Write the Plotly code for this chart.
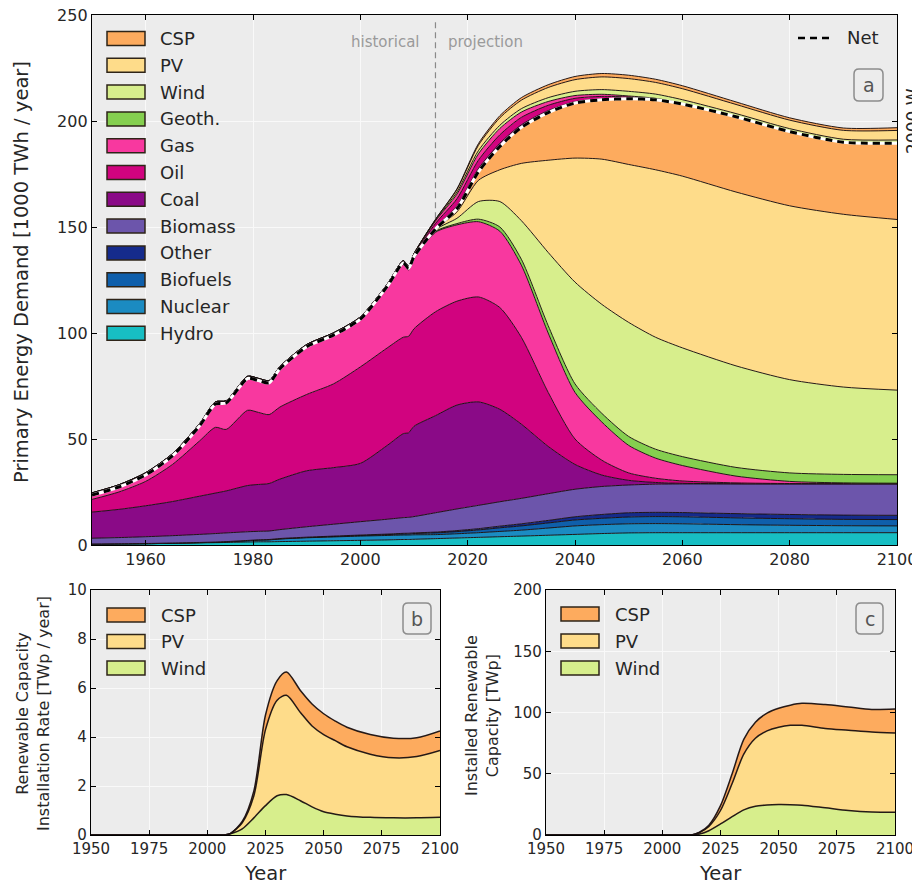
import plotly.graph_objects as go

# ---------------- Panel a data (1000 TWh / year) ----------------
YEARS = [1950, 1955, 1960, 1965, 1970, 1973, 1975, 1979, 1981, 1983, 1985, 1990, 1995, 2000,
         2005, 2008, 2009, 2010, 2014, 2018, 2022, 2026, 2030, 2035, 2040, 2045, 2050, 2055,
         2060, 2070, 2080, 2090, 2100]
HYDRO = [0.4, 0.5, 0.6, 0.8, 1.0, 1.1, 1.2, 1.4, 1.5, 1.5, 1.6, 1.8, 2.0, 2.2, 2.4, 2.6, 2.6, 2.7,
         3.0, 3.3, 3.6, 3.9, 4.2, 4.6, 5.0, 5.4, 5.7, 5.8, 5.8, 5.8, 5.8, 5.8, 5.8]
NUCLEAR = [0, 0, 0, 0.05, 0.1, 0.2, 0.3, 0.6, 0.8, 0.9, 1.2, 1.6, 1.8, 2.0, 2.1, 2.1, 2.1, 2.1,
           1.9, 2.0, 2.2, 2.5, 2.8, 3.4, 4.0, 4.2, 4.3, 4.3, 4.2, 3.8, 3.5, 3.3, 3.2]
BIOFUELS = [0, 0, 0, 0, 0, 0, 0, 0.05, 0.05, 0.1, 0.1, 0.15, 0.2, 0.3, 0.4, 0.5, 0.55, 0.6,
            0.8, 1.0, 1.3, 1.7, 2.0, 2.4, 2.8, 3.0, 3.2, 3.3, 3.3, 3.2, 3.1, 3.0, 3.0]
OTHER = [0.1, 0.1, 0.1, 0.1, 0.1, 0.1, 0.1, 0.1, 0.1, 0.1, 0.15, 0.15, 0.2, 0.2, 0.25, 0.3, 0.3, 0.3,
         0.4, 0.5, 0.6, 0.8, 1.0, 1.2, 1.5, 1.8, 2.0, 2.0, 2.0, 2.0, 2.0, 2.0, 2.0]
BIOMASS = [2.7, 2.9, 3.2, 3.45, 3.8, 4.0, 4.1, 4.1, 4.0, 4.0, 4.2, 4.9, 5.6, 6.3, 7.0, 7.4, 7.5, 7.7,
           9.1, 10.2, 11.0, 11.5, 12.0, 12.6, 13.0, 13.2, 13.1, 13.3, 13.5, 14.0, 14.4, 14.7, 14.8]
COAL = [12.3, 13.3, 14.6, 16.1, 18.0, 19.1, 19.8, 21.8, 22.1, 22.4, 23.8, 26.4, 26.7, 27.5, 34.8, 39.6,
        39.9, 42.6, 45.8, 49.0, 48.8, 43.6, 35.0, 22.3, 11.7, 5.4, 2.2, 0.8, 0.3, 0.1, 0.05, 0.05, 0.05]
OIL = [6.0, 8.2, 11.5, 17.5, 26.0, 31.0, 29.0, 35.5, 34.0, 32.5, 34.0, 36.0, 39.5, 45.5, 46.0, 45.5,
       45.5, 46.0, 49.0, 49.0, 49.5, 48.0, 41.0, 25.5, 12.0, 7.0, 3.5, 2.0, 1.1, 0.4, 0.15, 0.1, 0.1]
GAS = [2.0, 2.3, 3.0, 4.0, 7.0, 10.9, 12.4, 14.9, 14.9, 14.9, 17.9, 22.3, 22.8, 22.3, 28.6, 34.4,
       31.3, 33.2, 37.5, 36.0, 35.5, 36.0, 34.0, 28.0, 22.0, 18.0, 13.0, 9.5, 7.3, 3.2, 1.0, 0.35, 0.2]
GEOTH = [0.05, 0.05, 0.05, 0.05, 0.05, 0.1, 0.1, 0.1, 0.1, 0.1, 0.15, 0.2, 0.2, 0.2, 0.25, 0.3, 0.3,
         0.3, 0.4, 0.6, 1.2, 2.0, 2.8, 3.5, 4.0, 4.1, 4.2, 4.2, 4.2, 4.1, 4.0, 4.0, 4.0]
WIND = [0, 0, 0, 0, 0, 0, 0, 0, 0, 0, 0, 0, 0.02, 0.05, 0.15, 0.3, 0.4, 0.5, 0.8, 2.5, 8.3, 12.0,
        18.2, 34.5, 48.0, 51.4, 53.8, 52.8, 51.3, 47.9, 44.0, 41.2, 39.9]
PV = [0, 0, 0, 0, 0, 0, 0, 0, 0, 0, 0, 0, 0, 0, 0, 0.02, 0.03, 0.05, 0.3, 3.0, 10.0, 15.0, 27.0,
      43.5, 58.5, 68.5, 74.5, 79.0, 81.0, 82.0, 82.0, 81.5, 80.5]
CSP = [0, 0, 0, 0, 0, 0, 0, 0, 0, 0, 0, 0, 0, 0, 0, 0, 0, 0, 0.05, 1.5, 4.0, 11.0, 17.0, 22.5,
       26.0, 28.0, 31.0, 33.0, 34.0, 35.5, 35.0, 34.0, 36.0]
# energy invested (gross minus net), stacked above the net line
COAL_INV = [0.25, 0.25, 0.25, 0.25, 0.25, 0.25, 0.25, 0.25, 0.25, 0.25, 0.25, 0.25, 0.25, 0.25, 0.25,
            0.25, 0.25, 0.3, 0.6, 1.2, 1.5, 1.5, 1.2, 0.9, 0.6, 0.4, 0.2, 0.1, 0.05, 0, 0, 0, 0]
OIL_INV = [0.5, 0.5, 0.5, 0.5, 0.5, 0.5, 0.5, 0.5, 0.5, 0.5, 0.5, 0.5, 0.5, 0.5, 0.5, 0.5, 0.5, 0.6,
           2.0, 3.5, 4.0, 4.0, 3.5, 2.5, 1.6, 1.2, 0.6, 0.3, 0.1, 0, 0, 0, 0]
GAS_INV = [0.3, 0.3, 0.3, 0.3, 0.3, 0.3, 0.3, 0.3, 0.3, 0.3, 0.3, 0.3, 0.3, 0.3, 0.3, 0.3, 0.3, 0.4,
           1.2, 2.2, 3.0, 3.0, 2.5, 1.8, 1.3, 1.0, 0.5, 0.3, 0.1, 0, 0, 0, 0]
WIND_INV = [0, 0, 0, 0, 0, 0, 0, 0, 0, 0, 0, 0, 0, 0, 0, 0.05, 0.05, 0.1, 0.4, 1.0, 1.5, 1.5, 1.6,
            1.8, 2.0, 2.2, 2.2, 2.0, 1.8, 1.5, 1.4, 1.4, 1.5]
PV_INV = [0, 0, 0, 0, 0, 0, 0, 0, 0, 0, 0, 0, 0, 0, 0, 0, 0, 0.05, 0.3, 1.2, 2.5, 3.5, 4.0, 4.8, 5.5,
          6.0, 6.0, 5.5, 5.2, 4.3, 4.0, 4.2, 4.5]
CSP_INV = [0, 0, 0, 0, 0, 0, 0, 0, 0, 0, 0, 0, 0, 0, 0, 0, 0, 0, 0.05, 0.3, 0.8, 1.0, 1.2, 1.3, 1.5,
           1.6, 1.6, 1.5, 1.4, 1.2, 1.1, 1.1, 1.3]

# ---------------- Panel b data (TWp / year) ----------------
B_YEARS = [1950, 2000, 2005, 2008, 2010, 2015, 2020, 2025, 2030, 2034, 2040, 2045, 2050, 2055,
           2060, 2070, 2080, 2090, 2100]
B_WIND = [0, 0, 0, 0.01, 0.05, 0.25, 0.7, 1.2, 1.6, 1.65, 1.4, 1.15, 0.95, 0.85, 0.78, 0.72, 0.7, 0.7, 0.72]
B_PV = [0, 0, 0, 0, 0.02, 0.25, 0.9, 3.1, 3.9, 4.05, 3.6, 3.3, 3.15, 3.0, 2.82, 2.58, 2.45, 2.5, 2.73]
B_CSP = [0, 0, 0, 0, 0, 0.05, 0.2, 0.6, 0.8, 0.95, 0.9, 0.9, 0.85, 0.8, 0.8, 0.8, 0.8, 0.77, 0.8]

# ---------------- Panel c data (TWp) ----------------
C_YEARS = [1950, 2005, 2010, 2013, 2016, 2020, 2025, 2030, 2035, 2040, 2045, 2050, 2055, 2060,
           2070, 2080, 2090, 2100]
C_WIND = [0, 0, 0, 0.1, 0.8, 3.5, 9, 15, 20.5, 23.5, 24.5, 24.8, 24.7, 24.3, 22.2, 20, 18.8, 18.6]
C_PV = [0, 0, 0, 0.1, 1.2, 3.5, 11, 27, 45.5, 55.5, 60.5, 63.2, 64.8, 65.2, 64.8, 65.5, 65.2, 64.6]
C_CSP = [0, 0, 0, 0, 0.3, 1, 4, 8, 12, 13, 14.5, 15.5, 16.5, 18, 19.5, 19, 18.5, 19.6]

A_XTICKS = [1960, 1980, 2000, 2020, 2040, 2060, 2080, 2100]
A_YTICKS = [0, 50, 100, 150, 200, 250]
BC_XTICKS = [1950, 1975, 2000, 2025, 2050, 2075, 2100]
B_YTICKS = [0, 2, 4, 6, 8, 10]
C_YTICKS = [0, 50, 100, 150, 200]

COLORS = {
    "CSP": "#fdab5e", "PV": "#fedc8a", "Wind": "#d7ee8c", "Geoth.": "#85cf4f",
    "Gas": "#f8389f", "Oil": "#d1037f", "Coal": "#8a0a87", "Biomass": "#6c55ab",
    "Other": "#152b8c", "Biofuels": "#0f5fab", "Nuclear": "#1b8bc2", "Hydro": "#17bec3",
}
MAIN_SERIES = [("Hydro", HYDRO), ("Nuclear", NUCLEAR), ("Biofuels", BIOFUELS), ("Other", OTHER),
               ("Biomass", BIOMASS), ("Coal", COAL), ("Oil", OIL), ("Gas", GAS), ("Geoth.", GEOTH),
               ("Wind", WIND), ("PV", PV), ("CSP", CSP)]
INV_SERIES = [("Coal", COAL_INV), ("Oil", OIL_INV), ("Gas", GAS_INV), ("Wind", WIND_INV),
              ("PV", PV_INV), ("CSP", CSP_INV)]

# the page body has an 8px margin, so the figure is drawn 8px in from the window edge
OFF = 8
W, H = 920 - OFF, 885 - OFF
EDGE = "rgba(25,15,15,0.95)"
FONT = "DejaVu Sans"
TXT = "#262626"


def px(x):
    """window x pixel -> paper fraction"""
    return (x - OFF) / W


def py(y):
    """window y pixel -> paper fraction"""
    return 1 - (y - OFF) / H


fig = go.Figure()

# panel a stacked areas
for name, vals in MAIN_SERIES + INV_SERIES:
    fig.add_trace(go.Scatter(
        x=YEARS, y=vals, name=name, stackgroup="a", mode="lines",
        line=dict(color=EDGE, width=1, shape="spline", smoothing=0.7),
        fillcolor=COLORS[name], hoverinfo="skip", xaxis="x", yaxis="y"))

NET = [sum(s[1][i] for s in MAIN_SERIES) for i in range(len(YEARS))]
fig.add_trace(go.Scatter(x=YEARS, y=NET, mode="lines", hoverinfo="skip",
                         line=dict(color="white", width=3, shape="spline", smoothing=0.7),
                         xaxis="x", yaxis="y"))
fig.add_trace(go.Scatter(x=YEARS, y=NET, mode="lines", name="Net", hoverinfo="skip",
                         line=dict(color="black", width=3, dash="7px,5px", shape="spline", smoothing=0.7),
                         xaxis="x", yaxis="y"))

# panels b and c
for (yrs, series, xa, ya, grp) in [
        (B_YEARS, [("Wind", B_WIND), ("PV", B_PV), ("CSP", B_CSP)], "x2", "y2", "b"),
        (C_YEARS, [("Wind", C_WIND), ("PV", C_PV), ("CSP", C_CSP)], "x3", "y3", "c")]:
    for name, vals in series:
        fig.add_trace(go.Scatter(
            x=yrs, y=vals, name=name, stackgroup=grp, mode="lines",
            line=dict(color=EDGE, width=1.5, shape="spline", smoothing=0.8),
            fillcolor=COLORS[name], hoverinfo="skip", xaxis=xa, yaxis=ya))

axis_common = dict(showline=True, linecolor="black", linewidth=1.3, mirror="ticks",
                   ticks="inside", ticklen=5, tickcolor="black", showgrid=True,
                   gridcolor="#f9f9f9", gridwidth=1, zeroline=False, automargin=False,
                   ticklabeloverflow="allow",
                   tickfont=dict(family=FONT, size=16, color=TXT))
small_tick = dict(family=FONT, size=15, color=TXT)

fig.update_layout(
    width=W, height=H, margin=dict(l=0, r=0, t=0, b=0, pad=0, autoexpand=False),
    paper_bgcolor="white", plot_bgcolor="#ececec", showlegend=False,
    font=dict(family=FONT, color=TXT),
    xaxis=dict(axis_common, domain=[px(92), px(897)], range=[1950, 2100], tickvals=A_XTICKS,
               anchor="y"),
    yaxis=dict(axis_common, domain=[py(545), py(15)], range=[0, 250], tickvals=A_YTICKS,
               anchor="x"),
    xaxis2=dict(axis_common, domain=[px(91), px(440)], range=[1950, 2100], tickvals=BC_XTICKS,
                anchor="y2", tickfont=small_tick),
    yaxis2=dict(axis_common, domain=[py(835), py(590)], range=[0, 10], tickvals=B_YTICKS,
                anchor="x2", tickfont=small_tick),
    xaxis3=dict(axis_common, domain=[px(546), px(895)], range=[1950, 2100], tickvals=BC_XTICKS,
                anchor="y3", tickfont=small_tick),
    yaxis3=dict(axis_common, domain=[py(835), py(590)], range=[0, 200], tickvals=C_YTICKS,
                anchor="x3", tickfont=small_tick),
)

shapes = []
annotations = []

# historical / projection divider
shapes.append(dict(type="line", xref="x", yref="y", x0=2014, x1=2014, y0=140, y1=247,
                   line=dict(color="#8a8a8a", width=1.2, dash="6px,4px"), layer="below"))
annotations.append(dict(text="historical", xref="paper", yref="paper", x=px(422), y=py(42),
                        xanchor="right", yanchor="middle", showarrow=False,
                        font=dict(family=FONT, size=15, color="#9a9a9a")))
annotations.append(dict(text="projection", xref="paper", yref="paper", x=px(446), y=py(42),
                        xanchor="left", yanchor="middle", showarrow=False,
                        font=dict(family=FONT, size=15, color="#9a9a9a")))


def legend_block(names, x_sw, y_first, step, x_txt, size):
    for i, n in enumerate(names):
        yc = y_first + i * step
        shapes.append(dict(type="rect", xref="paper", yref="paper",
                           x0=px(x_sw), x1=px(x_sw + 38), y0=py(yc + 7), y1=py(yc - 7),
                           fillcolor=COLORS[n], line=dict(color="#2e2418", width=1.5)))
        annotations.append(dict(text=n, xref="paper", yref="paper", x=px(x_txt), y=py(yc),
                                xanchor="left", yanchor="middle", showarrow=False,
                                font=dict(family=FONT, size=size, color=TXT)))


legend_block([n for n, _ in MAIN_SERIES][::-1], 107, 38.5, 26.8, 158, 18)
legend_block(["CSP", "PV", "Wind"], 107, 615, 26.5, 159, 18)
legend_block(["CSP", "PV", "Wind"], 561, 614, 27, 613, 18)

# Net legend
shapes.append(dict(type="line", xref="paper", yref="paper", x0=px(798), x1=px(832),
                   y0=py(38), y1=py(38), line=dict(color="black", width=2.5, dash="7px,5px")))
annotations.append(dict(text="Net", xref="paper", yref="paper", x=px(845), y=py(38),
                        xanchor="left", yanchor="middle", showarrow=False,
                        font=dict(family=FONT, size=18, color=TXT)))


def rbox(x0, y0, x1, y1, r, label):
    X0, X1 = px(x0), px(x1)
    rx, ry = r / W, r / H
    Yt, Yb = py(y0), py(y1)
    path = (f"M{X0+rx},{Yt} L{X1-rx},{Yt} Q{X1},{Yt} {X1},{Yt-ry} L{X1},{Yb+ry} "
            f"Q{X1},{Yb} {X1-rx},{Yb} L{X0+rx},{Yb} Q{X0},{Yb} {X0},{Yb+ry} "
            f"L{X0},{Yt-ry} Q{X0},{Yt} {X0+rx},{Yt} Z")
    shapes.append(dict(type="path", xref="paper", yref="paper", path=path,
                       fillcolor="rgba(255,255,255,0)", line=dict(color="#8c8c8c", width=1.5)))
    annotations.append(dict(text=label, xref="paper", yref="paper", x=px((x0 + x1) / 2),
                            y=py((y0 + y1) / 2), xanchor="center", yanchor="middle",
                            showarrow=False, font=dict(family=FONT, size=19, color="#555")))


rbox(854, 69, 883, 101, 5, "a")
rbox(403, 603, 431, 634, 5, "b")
rbox(856, 603, 883, 634, 5, "c")

# axis titles
annotations.append(dict(text="Primary Energy Demand [1000 TWh / year]", xref="paper", yref="paper",
                        x=px(21), y=py(272), textangle=-90, showarrow=False,
                        xanchor="center", yanchor="middle",
                        font=dict(family=FONT, size=19.5, color=TXT)))
annotations.append(dict(text="Renewable Capacity<br>Installation Rate [TWp / year]", xref="paper",
                        yref="paper", x=px(33), y=py(714), textangle=-90, showarrow=False,
                        xanchor="center", yanchor="middle",
                        font=dict(family=FONT, size=16, color=TXT)))
annotations.append(dict(text="Installed Renewable<br>Capacity [TWp]", xref="paper",
                        yref="paper", x=px(482), y=py(716), textangle=-90, showarrow=False,
                        xanchor="center", yanchor="middle",
                        font=dict(family=FONT, size=16, color=TXT)))
for xc in (265, 720):
    annotations.append(dict(text="Year", xref="paper", yref="paper", x=px(xc), y=py(873),
                            showarrow=False, xanchor="center", yanchor="middle",
                            font=dict(family=FONT, size=19.5, color=TXT)))
annotations.append(dict(text="2000 W", xref="paper", yref="paper", x=px(913), y=py(121),
                        textangle=-90, showarrow=False, xanchor="center", yanchor="middle",
                        font=dict(family=FONT, size=17, color=TXT)))

fig.update_layout(shapes=shapes, annotations=annotations)
fig.write_html("out.html")
